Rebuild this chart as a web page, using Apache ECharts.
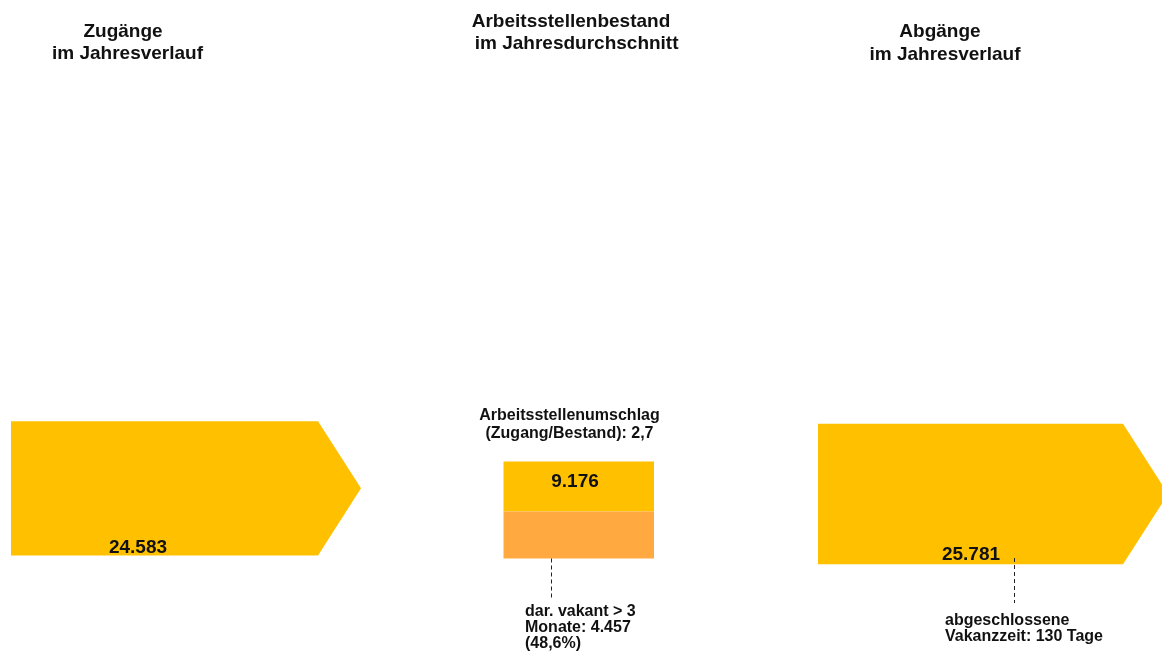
<!DOCTYPE html>
<html>
<head>
<meta charset="utf-8">
<script src="https://cdn.jsdelivr.net/npm/echarts@6/dist/echarts.min.js"></script>
<style>
  html, body { margin: 0; padding: 0; background: #ffffff; }
  #chart { width: 1162px; height: 655px; }
</style>
</head>
<body>
<div id="chart"></div>
<script>
// Stellenzugänge / Stellenabgänge im Jahresverlauf
const flowCategories = ['Zugänge', 'Abgänge'];
const flowValues = [24583, 25781];

// Bestand im Jahresdurchschnitt, davon länger als 3 Monate vakant
const stockCategories = ['Bestand'];
const stockTotal = [9176];
const stockVacantOver3M = [4457];

// abgeschlossene Vakanzzeit in Tagen
const vacancyDays = [130];

const headings = [
  ['Zugänge', 'im Jahresverlauf'],
  ['Arbeitsstellenbestand', ' im Jahresdurchschnitt'],
  ['Abgänge', 'im Jahresverlauf']
];

// German number formatting
const fmtInt = n => String(Math.round(n)).replace(/\B(?=(\d{3})+(?!\d))/g, '.');
const fmtDec = n => n.toFixed(1).replace('.', ',');

const turnover = flowValues[0] / stockTotal[0];
const vacantShare = stockVacantOver3M[0] / stockTotal[0] * 100;

// drawing layout (pixels)
const arrowLayout = [
  { x0: 11,  x1: 318,  tip: 361,  cy: 488.3, lx: 138, ld: 8 },
  { x0: 818, x1: 1123, tip: 1168, cy: 494,   lx: 971, ld: 9.5 }
];
const boxLayout = { x0: 503.5, x1: 654, cy: 510, lx: 575, ly: 20 };

const YELLOW = '#FFC000';
const ORANGE = '#FFA940';
const FONT = '"Liberation Sans", Arial, sans-serif';
const INK = '#111111';

function textEl(str, x, y, size, align) {
  return {
    type: 'text', x: x, y: y, silent: true, z: 10,
    style: {
      text: str, fill: INK, fontFamily: FONT, fontWeight: 'bold',
      fontSize: size, align: align || 'center', verticalAlign: 'middle'
    }
  };
}

function dashedLine(x, y1, y2) {
  return {
    type: 'line', silent: true, z: 10,
    shape: { x1: x, y1: y1, x2: x, y2: y2 },
    style: { stroke: '#222222', lineWidth: 1, lineDash: [4, 3] }
  };
}

const graphics = [
  textEl(headings[0][0], 123, 32, 19),
  textEl(headings[0][1], 127.5, 54, 19),
  textEl(headings[1][0], 571, 22, 19),
  textEl(headings[1][1], 574, 43.8, 19),
  textEl(headings[2][0], 940, 32, 19),
  textEl(headings[2][1], 945, 54.5, 19),

  textEl('Arbeitsstellenumschlag', 569.5, 416, 16),
  textEl('(Zugang/Bestand): ' + fmtDec(turnover), 569.5, 434, 16),

  textEl('dar. vakant > 3', 525, 611.5, 16, 'left'),
  textEl('Monate: ' + fmtInt(stockVacantOver3M[0]), 525, 627.8, 16, 'left'),
  textEl('(' + fmtDec(vacantShare) + '%)', 525, 644, 16, 'left'),

  textEl('abgeschlossene', 945, 620.5, 16, 'left'),
  textEl('Vakanzzeit: ' + vacancyDays[0] + ' Tage', 945, 637, 16, 'left'),

  dashedLine(551.5, 558.5, 598),
  dashedLine(1014.5, 558, 603)
];

const chart = echarts.init(document.getElementById('chart'), null, { renderer: 'canvas' });

chart.setOption({
  animation: false,
  backgroundColor: '#ffffff',
  grid: { left: 0, right: 0, top: 0, bottom: 0 },
  xAxis: [
    { type: 'category', data: flowCategories, show: false },
    { type: 'category', data: stockCategories, show: false }
  ],
  yAxis: [
    { type: 'value', min: 0, max: 120000, show: false },
    { type: 'value', min: 0, max: 62000, show: false }
  ],
  series: [
    {
      name: 'Ströme',
      type: 'custom',
      xAxisIndex: 0,
      yAxisIndex: 0,
      data: flowValues.map((v, i) => [i, v]),
      renderItem: (params, api) => {
        const L = arrowLayout[params.dataIndex];
        const v = api.value(1);
        const h = api.size([0, v])[1];
        const top = L.cy - h / 2;
        const bot = L.cy + h / 2;
        return {
          type: 'group',
          children: [
            {
              type: 'polygon',
              shape: { points: [[L.x0, top], [L.x1, top], [L.tip, L.cy], [L.x1, bot], [L.x0, bot]] },
              style: { fill: YELLOW }
            },
            {
              type: 'text', x: L.lx, y: bot - L.ld,
              style: {
                text: fmtInt(v), fill: INK, fontFamily: FONT, fontWeight: 'bold',
                fontSize: 19, align: 'center', verticalAlign: 'middle'
              }
            }
          ]
        };
      }
    },
    {
      name: 'Bestand',
      type: 'custom',
      xAxisIndex: 1,
      yAxisIndex: 1,
      data: stockTotal.map((v, i) => [i, v, stockVacantOver3M[i]]),
      renderItem: (params, api) => {
        const L = boxLayout;
        const total = api.value(1);
        const vacant = api.value(2);
        const hTotal = api.size([0, total])[1];
        const hVac = api.size([0, vacant])[1];
        const top = L.cy - hTotal / 2;
        const split = top + hTotal - hVac;
        return {
          type: 'group',
          children: [
            {
              type: 'rect',
              shape: { x: L.x0, y: top, width: L.x1 - L.x0, height: hTotal - hVac },
              style: { fill: YELLOW }
            },
            {
              type: 'rect',
              shape: { x: L.x0, y: split, width: L.x1 - L.x0, height: hVac },
              style: { fill: ORANGE }
            },
            {
              type: 'text', x: L.lx, y: top + L.ly,
              style: {
                text: fmtInt(total), fill: INK, fontFamily: FONT, fontWeight: 'bold',
                fontSize: 19, align: 'center', verticalAlign: 'middle'
              }
            }
          ]
        };
      }
    }
  ],
  graphic: graphics
});
</script>
</body>
</html>
